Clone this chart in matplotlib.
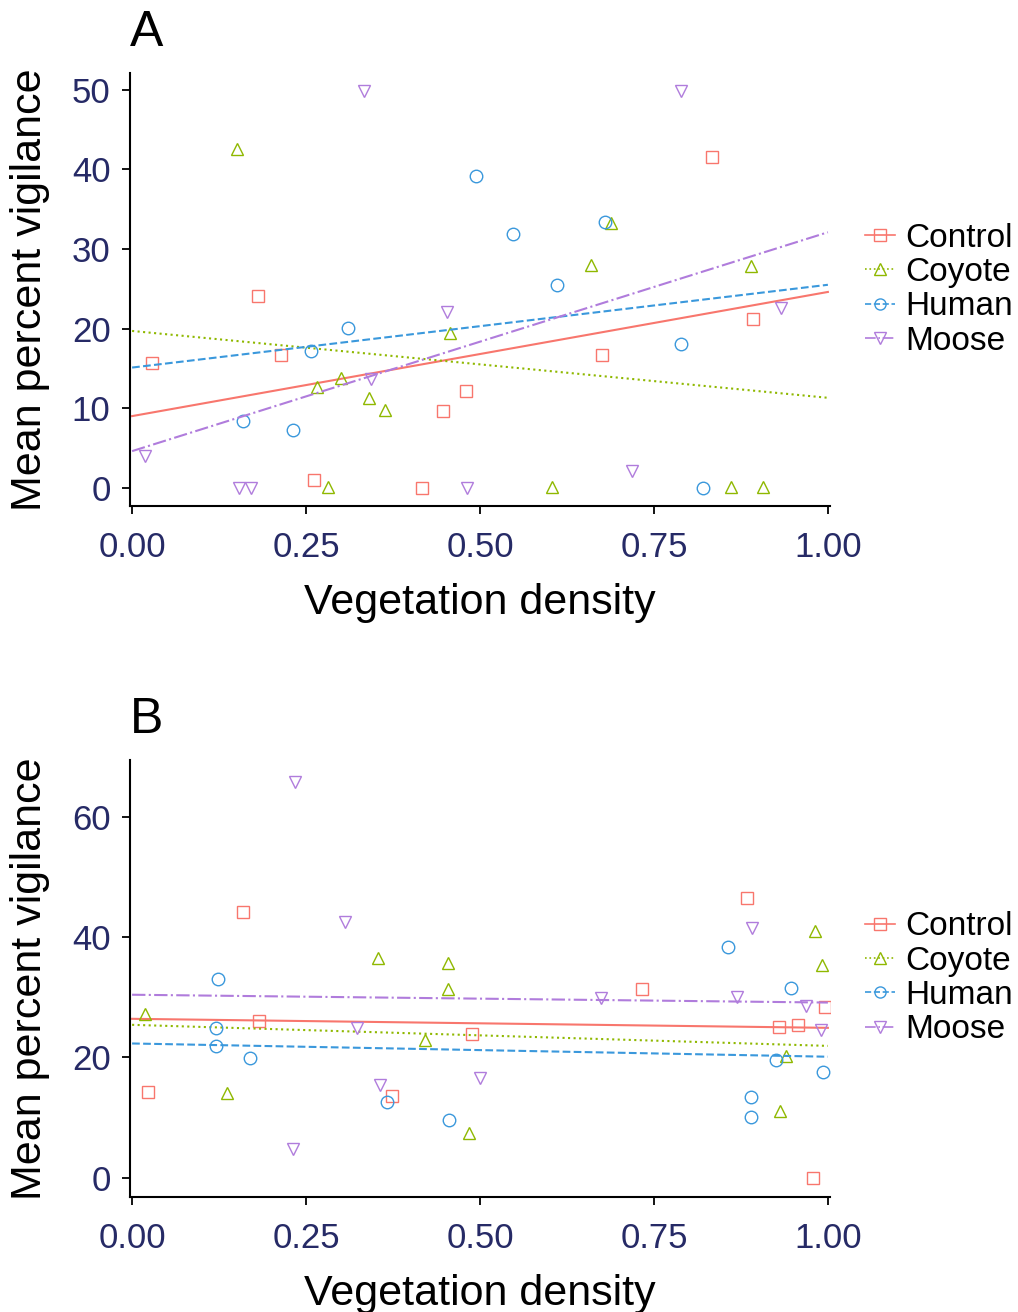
import matplotlib
matplotlib.use('Agg')
from matplotlib import pyplot as plt
import numpy as np

plt.rcParams['font.family'] = ['Liberation Sans', 'DejaVu Sans']

groups = ['Control', 'Coyote', 'Human', 'Moose']
colors = ['#f8766d', '#8fb800', '#3a98dc', '#b07cdc']
markers = ['s', '^', 'o', 'v']
styles = ['-', ':', '--', '-.']

# Panel A points
a_control_x = [0.029, 0.181, 0.214, 0.261, 0.417, 0.447, 0.480, 0.676, 0.833, 0.893]
a_control_y = [15.7, 24.1, 16.7, 1.0, 0.0, 9.7, 12.1, 16.7, 41.6, 21.2]
a_coyote_x = [0.151, 0.266, 0.300, 0.340, 0.363, 0.281, 0.457, 0.604, 0.861, 0.907, 0.689, 0.659, 0.890]
a_coyote_y = [42.5, 12.7, 13.8, 11.3, 9.8, 0.1, 19.5, 0.1, 0.1, 0.1, 33.3, 28.0, 27.8]
a_human_x = [0.494, 0.547, 0.610, 0.679, 0.310, 0.257, 0.160, 0.231, 0.789, 0.821]
a_human_y = [39.2, 31.9, 25.5, 33.4, 20.1, 17.2, 8.4, 7.3, 18.1, 0.0]
a_moose_x = [0.333, 0.789, 0.453, 0.344, 0.019, 0.154, 0.171, 0.481, 0.719, 0.933]
a_moose_y = [49.8, 49.8, 22.1, 13.7, 4.0, 0.0, 0.0, 0.0, 2.1, 22.6]
# fitted lines: value at x=0 and x=1
a_fit_start = [9.0, 19.7, 15.1, 4.6]
a_fit_end = [24.6, 11.3, 25.5, 32.1]

# Panel B points
b_control_x = [0.023, 0.160, 0.183, 0.374, 0.489, 0.733, 0.884, 0.930, 0.957, 0.979, 0.996]
b_control_y = [14.3, 44.2, 26.1, 13.6, 23.9, 31.4, 46.5, 25.1, 25.4, 0.0, 28.3]
b_coyote_x = [0.019, 0.137, 0.353, 0.421, 0.454, 0.454, 0.484, 0.931, 0.940, 0.981, 0.991]
b_coyote_y = [27.2, 14.1, 36.5, 22.9, 35.7, 31.4, 7.5, 11.0, 20.2, 41.0, 35.4]
b_human_x = [0.124, 0.121, 0.120, 0.170, 0.366, 0.456, 0.856, 0.947, 0.926, 0.993, 0.890, 0.890]
b_human_y = [33.0, 24.9, 21.9, 19.9, 12.6, 9.6, 38.4, 31.6, 19.5, 17.6, 13.4, 10.1]
b_moose_x = [0.234, 0.306, 0.323, 0.356, 0.231, 0.500, 0.674, 0.870, 0.891, 0.969, 0.990]
b_moose_y = [65.8, 42.5, 24.9, 15.4, 4.8, 16.6, 29.9, 30.1, 41.5, 28.6, 24.6]
b_fit_start = [26.4, 25.4, 22.3, 30.4]
b_fit_end = [24.9, 21.9, 20.1, 29.1]

x_ticks = [0.0, 0.25, 0.5, 0.75, 1.0]
tick_color = '#262a66'


def draw_panel(ax, xs, ys, fit_start, fit_end, ylim, yticks, letter):
    for i in range(len(groups)):
        ax.plot(xs[i], ys[i], linestyle='none', marker=markers[i], markersize=9,
                markerfacecolor='none', markeredgecolor=colors[i], markeredgewidth=1.0)
        ax.plot([0, 1], [fit_start[i], fit_end[i]], linestyle=styles[i],
                color=colors[i], linewidth=1.5)
        # legend handle only
        ax.plot([], [], linestyle=styles[i], color=colors[i], linewidth=1.2,
                marker=markers[i], markersize=8, markerfacecolor='none',
                markeredgecolor=colors[i], label=groups[i])
    ax.set_xlim(-0.003, 1.003)
    ax.set_ylim(ylim)
    ax.set_xticks(x_ticks)
    ax.set_xticklabels(['%.2f' % t for t in x_ticks])
    ax.set_yticks(yticks)
    ax.spines['top'].set_visible(False)
    ax.spines['right'].set_visible(False)
    ax.spines['left'].set_linewidth(1.5)
    ax.spines['bottom'].set_linewidth(1.5)
    ax.tick_params(labelsize=25, labelcolor=tick_color, length=6, width=1.3)
    ax.tick_params(axis='x', pad=12)
    ax.tick_params(axis='y', pad=8)
    ax.set_xlabel('Vegetation density', fontsize=31, labelpad=14)
    ax.set_ylabel('Mean percent vigilance', fontsize=31, labelpad=16)
    ax.text(0.0, 1.04, letter, transform=ax.transAxes, fontsize=36, ha='left', va='bottom')
    ax.legend(loc='center left', bbox_to_anchor=(1.05, 0.5), frameon=False, fontsize=24,
              handlelength=0.9, handletextpad=0.3, labelspacing=0.1, borderpad=0,
              borderaxespad=0)


fig = plt.figure(figsize=(10.18, 13.12), dpi=100)
ax1 = fig.add_axes([0.1277, 0.6143, 0.6876, 0.330])
ax2 = fig.add_axes([0.1277, 0.0877, 0.6876, 0.333])

draw_panel(ax1, [a_control_x, a_coyote_x, a_human_x, a_moose_x],
           [a_control_y, a_coyote_y, a_human_y, a_moose_y],
           a_fit_start, a_fit_end, (-2.3, 52.1), [0, 10, 20, 30, 40, 50], 'A')
draw_panel(ax2, [b_control_x, b_coyote_x, b_human_x, b_moose_x],
           [b_control_y, b_coyote_y, b_human_y, b_moose_y],
           b_fit_start, b_fit_end, (-3.2, 69.4), [0, 20, 40, 60], 'B')

fig.savefig('out.png', dpi=100)
